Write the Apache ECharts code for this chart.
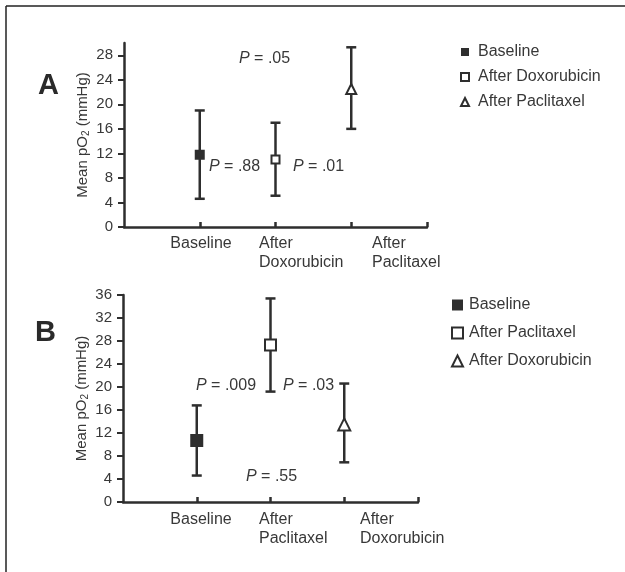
<!DOCTYPE html>
<html>
<head>
<meta charset="utf-8">
<style>
html,body{margin:0;padding:0;background:#fff;}
#c{width:625px;height:572px;}
</style>
<script src="https://cdn.jsdelivr.net/npm/echarts@6/dist/echarts.min.js"></script>
</head>
<body>
<div id="c"></div>
<script>
// ---- Data ----
// Panel A (order: Baseline, After Doxorubicin, After Paclitaxel)
const categoriesA = ['Baseline', 'After Doxorubicin', 'After Paclitaxel'];
const meanA  = [11.8, 11.0, 22.5];
const lowerA = [4.6, 5.1, 16.0];
const upperA = [19.0, 17.0, 29.3];
const yTicksA = [0, 4, 8, 12, 16, 20, 24, 28];
const yMaxA = 30;

// Panel B (order: Baseline, After Paclitaxel, After Doxorubicin)
const categoriesB = ['Baseline', 'After Paclitaxel', 'After Doxorubicin'];
const meanB  = [10.7, 27.3, 13.5];
const lowerB = [4.6, 19.2, 6.9];
const upperB = [16.8, 35.4, 20.6];
const yTicksB = [0, 4, 8, 12, 16, 20, 24, 28, 32, 36];
const yMaxB = 36;

const pTextsA = ['.05', '.88', '.01'];
const pTextsB = ['.009', '.03', '.55'];

// ---- Styles ----
const FONT = '"Liberation Sans", Arial, Helvetica, sans-serif';
const INK = '#2e2e2e';
const TXT = '#383838';

const symbolsA = [
  {symbol: 'rect', size: 8, fill: INK},
  {symbol: 'rect', size: 8, fill: '#fff'},
  {symbol: 'triangle', size: 10, fill: '#fff'}
];
const symbolsB = [
  {symbol: 'rect', size: 11, fill: INK},
  {symbol: 'rect', size: 11, fill: '#fff'},
  {symbol: 'triangle', size: 12, fill: '#fff'}
];

function errorSeries(gridIdx, lower, upper) {
  return {
    type: 'custom',
    xAxisIndex: gridIdx, yAxisIndex: gridIdx,
    silent: true, z: 2,
    encode: {x: 0, y: [1, 2]},
    data: lower.map((lo, i) => [i + 1, lo, upper[i]]),
    renderItem: function (params, api) {
      const x = api.value(0);
      const pLo = api.coord([x, api.value(1)]);
      const pHi = api.coord([x, api.value(2)]);
      const hw = 5;
      const st = {stroke: INK, lineWidth: 2.5};
      return {type: 'group', children: [
        {type: 'line', shape: {x1: pLo[0], y1: pLo[1], x2: pHi[0], y2: pHi[1]}, style: st},
        {type: 'line', shape: {x1: pLo[0] - hw, y1: pLo[1], x2: pLo[0] + hw, y2: pLo[1]}, style: st},
        {type: 'line', shape: {x1: pHi[0] - hw, y1: pHi[1], x2: pHi[0] + hw, y2: pHi[1]}, style: st}
      ]};
    }
  };
}

function pointSeries(gridIdx, cats, means, syms) {
  return cats.map((name, i) => ({
    type: 'scatter', name: name,
    xAxisIndex: gridIdx, yAxisIndex: gridIdx,
    z: 5, silent: true,
    symbol: syms[i].symbol, symbolSize: syms[i].size,
    itemStyle: {color: syms[i].fill, borderColor: INK, borderWidth: 2, opacity: 1},
    data: [[i + 1, means[i]]]
  }));
}

function xAxis(gridIdx) {
  return {
    gridIndex: gridIdx, type: 'value', min: 0, max: 4, interval: 1,
    axisLine: {show: true, lineStyle: {color: INK, width: 2.5}},
    axisTick: {show: true, inside: true, length: 5, lineStyle: {color: INK, width: 2.5}, customValues: [1, 2, 3, 4]},
    axisLabel: {show: false},
    splitLine: {show: false}
  };
}

function yAxis(gridIdx, ticks, max) {
  return {
    gridIndex: gridIdx, type: 'value', min: 0, max: max, interval: 4,
    name: '{a|Mean pO}{s|2}{a| (mmHg)}',
    nameLocation: 'middle', nameGap: 33, nameRotate: 90,
    nameTextStyle: {rich: {
      a: {fontFamily: FONT, fontSize: 15, color: TXT},
      s: {fontFamily: FONT, fontSize: 10, color: TXT, verticalAlign: 'bottom', padding: [6, 0, 0, 0]}
    }},
    axisLine: {show: true, lineStyle: {color: INK, width: 2.5}},
    axisTick: {show: true, inside: false, length: 6, lineStyle: {color: INK, width: 2}, customValues: ticks},
    axisLabel: {fontFamily: FONT, fontSize: 15, color: TXT, margin: 11, customValues: ticks},
    splitLine: {show: false}
  };
}

function legendData(cats, syms) {
  return cats.map((name, i) => ({
    name: name,
    icon: syms[i].symbol,
    itemStyle: {color: syms[i].fill, borderColor: INK, borderWidth: syms[i].fill === '#fff' ? 2 : 0}
  }));
}

function pText(x, y, v) {
  return {
    type: 'text', x: x, y: y,
    style: {
      text: '{i|P} = ' + v,
      rich: {i: {fontStyle: 'italic', fontFamily: FONT, fontSize: 16, fill: TXT}},
      fontFamily: FONT, fontSize: 16, fill: TXT, verticalAlign: 'middle', align: 'left'
    }
  };
}

function xLabel(x, y, lines, align) {
  return {
    type: 'text', x: x, y: y,
    style: {text: lines.join('\n'), fontFamily: FONT, fontSize: 16, lineHeight: 19, fill: TXT, align: align, verticalAlign: 'top'}
  };
}

const chart = echarts.init(document.getElementById('c'), null, {renderer: 'canvas'});
chart.setOption({
  backgroundColor: '#fff',
  animation: false,
  grid: [
    {left: 124, top: 43, width: 303, height: 184},
    {left: 123, top: 295, width: 295, height: 207}
  ],
  xAxis: [xAxis(0), xAxis(1)],
  yAxis: [yAxis(0, yTicksA, yMaxA), yAxis(1, yTicksB, yMaxB)],
  legend: [
    {
      left: 455, top: 39, orient: 'vertical', selectedMode: false,
      itemWidth: 8, itemHeight: 8, itemGap: 9,
      textStyle: {fontFamily: FONT, fontSize: 16, color: TXT, lineHeight: 16, padding: [0, 0, 0, 4]},
      data: legendData(categoriesA, symbolsA)
    },
    {
      left: 446, top: 292, orient: 'vertical', selectedMode: false,
      itemWidth: 11, itemHeight: 11, itemGap: 12,
      textStyle: {fontFamily: FONT, fontSize: 16, color: TXT, lineHeight: 16, padding: [0, 0, 0, 1]},
      data: legendData(categoriesB, symbolsB)
    }
  ],
  series: [
    errorSeries(0, lowerA, upperA),
    ...pointSeries(0, categoriesA, meanA, symbolsA),
    errorSeries(1, lowerB, upperB),
    ...pointSeries(1, categoriesB, meanB, symbolsB)
  ],
  graphic: [
    // frame
    {type: 'line', shape: {x1: 6, y1: 6, x2: 625, y2: 6}, style: {stroke: '#222', lineWidth: 1.5}},
    {type: 'line', shape: {x1: 6, y1: 6, x2: 6, y2: 572}, style: {stroke: '#222', lineWidth: 1.5}},
    // panel letters
    {type: 'text', x: 38, y: 86, style: {text: 'A', fontFamily: FONT, fontWeight: 'bold', fontSize: 29, fill: '#2a2a2a', verticalAlign: 'middle'}},
    {type: 'text', x: 35, y: 333, style: {text: 'B', fontFamily: FONT, fontWeight: 'bold', fontSize: 29, fill: '#2a2a2a', verticalAlign: 'middle'}},
    // P values A
    pText(239, 59, pTextsA[0]),
    pText(209, 167, pTextsA[1]),
    pText(293, 167, pTextsA[2]),
    // P values B
    pText(196, 386, pTextsB[0]),
    pText(283, 386, pTextsB[1]),
    pText(246, 477, pTextsB[2]),
    // x labels A
    xLabel(201, 234, [categoriesA[0]], 'center'),
    xLabel(259, 234, ['After', 'Doxorubicin'], 'left'),
    xLabel(372, 234, ['After', 'Paclitaxel'], 'left'),
    // x labels B
    xLabel(201, 510, [categoriesB[0]], 'center'),
    xLabel(259, 510, ['After', 'Paclitaxel'], 'left'),
    xLabel(360, 510, ['After', 'Doxorubicin'], 'left')
  ]
});
</script>
</body>
</html>
